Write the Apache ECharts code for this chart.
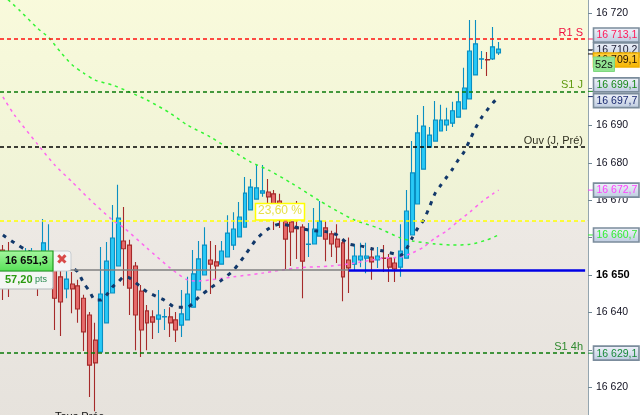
<!DOCTYPE html>
<html><head><meta charset="utf-8">
<style>html,body{margin:0;padding:0;background:#fff}#c{width:640px;height:415px}</style>
<script src="https://cdn.jsdelivr.net/npm/echarts@6/dist/echarts.min.js"></script>
</head><body><div id="c"></div>
<script>
const opens=[16656.7,16655.3,16653.5,16651.3,16651.9,16651.3,16654.5,16650.0,16651.1,16651.9,16649.5,16646.3,16647.6,16647.1,16643.8,16639.3,16632.6,16629.4,16637.2,16645.2,16652.4,16659.1,16658.0,16652.4,16645.7,16640.4,16638.8,16638.2,16638.8,16638.8,16638.0,16636.6,16638.0,16641.4,16646.0,16650.0,16654.0,16653.5,16652.9,16654.8,16658.0,16660.2,16662.8,16667.4,16670.3,16671.9,16672.2,16671.7,16669.8,16664.7,16664.2,16662.6,16662.8,16658.2,16658.3,16660.4,16662.6,16661.0,16659.6,16658.6,16654.0,16652.9,16654.0,16654.5,16654.8,16654.0,16654.5,16654.5,16653.2,16652.1,16654.5,16660.7,16669.0,16678.3,16684.2,16685.8,16688.5,16690.1,16690.6,16692.2,16694.4,16697.1,16703.5,16707.7,16707.6,16707.8,16709.4];
const closes=[16651.9,16650.0,16650.8,16653.5,16654.5,16655.3,16650.8,16658.6,16655.3,16643.8,16642.8,16648.9,16646.3,16640.9,16634.8,16625.9,16626.5,16644.9,16653.7,16659.9,16665.2,16657.0,16646.5,16639.3,16635.3,16637.2,16637.4,16639.3,16638.9,16637.2,16635.3,16639.6,16644.9,16650.3,16654.3,16658.0,16652.9,16652.4,16656.4,16661.2,16662.3,16665.5,16671.9,16673.5,16673.3,16672.5,16670.9,16665.5,16664.7,16659.6,16661.5,16662.4,16653.7,16658.3,16662.3,16664.4,16659.6,16658.3,16657.5,16649.5,16651.9,16655.1,16655.1,16655.1,16653.5,16655.1,16654.4,16652.1,16651.6,16656.4,16667.1,16677.3,16688.0,16689.8,16687.4,16691.4,16691.4,16691.4,16693.9,16696.3,16700.0,16709.9,16711.8,16707.8,16707.5,16711.0,16710.4];
const lows=[16643.3,16644.1,16647.6,16648.7,16650.0,16649.5,16644.4,16648.7,16649.5,16635.3,16633.7,16643.8,16639.8,16637.2,16629.7,16617.4,16613.6,16629.4,16637.2,16645.2,16652.4,16647.1,16639.3,16629.9,16628.1,16629.9,16632.9,16634.5,16635.3,16633.4,16632.1,16633.4,16638.0,16641.4,16646.0,16650.0,16644.9,16648.7,16652.9,16654.8,16656.7,16660.2,16662.8,16667.4,16670.3,16670.9,16667.4,16662.0,16662.6,16651.6,16652.4,16654.3,16643.8,16654.8,16658.3,16660.4,16653.7,16654.8,16653.2,16643.0,16645.2,16651.1,16652.1,16650.5,16648.7,16651.9,16650.8,16648.1,16648.1,16649.5,16654.5,16660.7,16669.0,16678.3,16684.2,16685.8,16688.5,16688.5,16689.6,16692.2,16694.4,16697.1,16703.5,16705.1,16703.2,16707.5,16708.8];
const highs=[16658.0,16658.8,16655.6,16655.6,16657.2,16657.2,16656.4,16665.0,16663.6,16653.5,16651.3,16651.3,16650.8,16648.7,16644.7,16640.1,16637.2,16657.5,16658.8,16668.7,16674.1,16668.2,16659.4,16653.5,16647.3,16642.0,16640.6,16646.0,16640.9,16641.4,16640.1,16646.0,16649.5,16656.7,16659.1,16662.8,16659.1,16658.0,16659.1,16666.0,16666.8,16669.5,16676.2,16675.7,16679.7,16679.4,16675.7,16672.7,16671.7,16668.7,16666.0,16669.8,16663.6,16663.9,16667.9,16669.8,16664.4,16661.8,16663.6,16659.4,16660.0,16658.3,16658.6,16658.6,16657.5,16657.5,16658.0,16655.6,16654.8,16663.6,16672.7,16685.8,16692.8,16695.2,16689.6,16696.5,16695.5,16694.7,16696.3,16698.9,16705.4,16718.2,16718.2,16709.9,16709.6,16716.3,16712.3];

const greenIdx=[0,3,6,8,10,12,14,16,19,22,25,29,32,36,39,43,46,50,55,58,61,65,69,71,75,78,81,84,86];
const greenVals=[16724.9,16720.6,16716.0,16713.4,16709.6,16706.2,16704.0,16702.1,16700.8,16698.9,16696.8,16693.3,16690.1,16686.9,16684.0,16680.2,16678.1,16674.6,16669.8,16667.1,16664.7,16662.6,16659.9,16659.1,16658.3,16658.0,16658.2,16659.4,16660.7];
const pinkIdx=[0,2,6,9,12,15,19,21,25,29,32,34,37,40,45,51,57,61,66,69,71,73,75,77,79,81,83,85,86];
const pinkVals=[16697.6,16692.8,16685.0,16679.4,16674.9,16670.3,16664.7,16662.6,16657.2,16651.9,16648.7,16648.4,16648.9,16649.5,16650.5,16651.9,16652.4,16653.2,16654.5,16654.8,16655.9,16657.5,16659.9,16661.8,16664.4,16666.8,16669.5,16671.7,16672.7];
const navyIdx=[0,2,4,6,8,10,12,13,14,15,16,17,18,19,20,21,22,25,28,30,32,33,34,36,38,40,42,44,46,48,50,52,54,56,58,60,62,64,66,68,69,70,71,72,73,74,75,76,77,78,79,80,81,82,83,84,85,86];
const navyVals=[16660.7,16658.6,16656.7,16655.3,16654.3,16652.9,16651.9,16650.8,16647.9,16645.7,16643.3,16643.3,16644.7,16646.8,16648.1,16649.5,16649.2,16645.5,16643.3,16641.4,16641.4,16642.5,16644.1,16646.5,16648.7,16651.3,16655.3,16659.6,16662.3,16663.6,16663.1,16662.3,16661.8,16661.6,16660.7,16658.3,16657.8,16657.0,16656.4,16655.6,16655.3,16657.0,16659.9,16662.6,16664.7,16668.2,16671.9,16674.1,16676.2,16678.3,16680.8,16682.9,16686.1,16689.3,16692.0,16694.1,16696.0,16697.6];

const levelVals=[16713.1,16699.1,16684.2,16664.6,16629.1];
const levelNames=['R1 S','S1 J','Ouv (J, Pré)','','S1 4h'];
const levelColors=['#ff1010','#0a7a0a','#000000','#ffff00','#0a7a0a'];
const levelTextColors=['#f01040','#5f9a10','#303020','#000','#2f8a2f'];
const entryPrice=16651.3;
const boxVals=[16629.1,16660.7,16672.7,16697.7,16699.1,16713.1,16710.2,16709.1];
const boxTexts=['16 629,1','16 660,7','16 672,7','16 697,7','16 699,1','16 713,1','16 710,2','16 709,1'];
const boxColors=['#1a8a3a','#33ee33','#ff40ff','#1a2a70','#1a8a1a','#ff1a5a','#1a1a30','#201000'];
const boxShift=[0,0,0,4,-6.5,-4,0,6];
const yTicks={min:16610,max:16730,step:10};
const hiddenTicks=[16630,16660,16700,16710];

const n=102;
const categories=Array.from({length:n},(_,i)=>String(i));
const candles=opens.map((o,i)=>[o,closes[i],lows[i],highs[i]]);
const zip=(a,b)=>a.map((v,i)=>[v,b[i]]);
const fmt=v=>{const s=String(v);return s.slice(0,2)+' '+s.slice(2)};

const chart=echarts.init(document.getElementById('c'),null,{renderer:'canvas'});
const FONT='"Liberation Sans",Arial,sans-serif';
const dashLine=(name,data,color,width,dash)=>({name,type:'line',data,showSymbol:false,symbol:'none',smooth:0.25,silent:true,z:4,
  lineStyle:{color,width,type:dash}});
chart.setOption({
  animation:false,
  backgroundColor:'#ffffff',
  grid:{left:0,right:52,top:-24.2,bottom:-9.6,containLabel:false,outerBoundsMode:'none'},
  xAxis:{type:'category',data:categories,show:false,boundaryGap:true},
  yAxis:{type:'value',position:'right',min:yTicks.min,max:yTicks.max,interval:yTicks.step,scale:true,
    splitLine:{show:false},
    axisLine:{show:true,lineStyle:{color:'#708794',width:1.5}},
    axisTick:{show:true,length:4,lineStyle:{color:'#708794',width:1}},
    axisLabel:{margin:8,color:'#101020',fontFamily:FONT,fontSize:10.5,
      formatter:v=>hiddenTicks.includes(v)?'':(v===16650?'{b|'+fmt(v)+'}':fmt(v)),
      rich:{b:{fontWeight:'bold',fontSize:11,color:'#000',fontFamily:FONT}}}},
  series:[
    {name:'fond',type:'line',data:[],silent:true,z:0,
      markArea:{silent:true,data:[
        [{yAxis:levelVals[3],itemStyle:{color:{type:'linear',x:0,y:0,x2:0,y2:1,colorStops:[{offset:0,color:'#fafbdc'},{offset:1,color:'#eef2d6'}]}}},{yAxis:yTicks.max}],
        [{yAxis:yTicks.min,itemStyle:{color:{type:'linear',x:0,y:0,x2:0,y2:1,colorStops:[{offset:0,color:'#ede9e4'},{offset:1,color:'#e6e2dc'}]}}},{yAxis:levelVals[3]}]
      ]}},
    {name:'niveaux',type:'line',data:[],silent:true,z:2,
      markLine:{silent:true,symbol:'none',animation:false,
        data:levelVals.map((v,i)=>({yAxis:v,
          lineStyle:{color:levelColors[i],type:[4,3],width:1.5},
          label:{show:!!levelNames[i],formatter:levelNames[i],position:'insideEndTop',distance:[5,1],color:levelTextColors[i],fontSize:11,fontFamily:FONT}}))
          .concat([
            [{xAxis:0,yAxis:entryPrice,lineStyle:{color:'#808080',type:'solid',width:1.5},label:{show:false}},{xAxis:60,yAxis:entryPrice}],
            [{xAxis:60,yAxis:entryPrice,lineStyle:{color:'#0000e6',type:'solid',width:2.5},label:{show:false}},{xAxis:n-1,yAxis:entryPrice}]
          ])}},
    {name:'cours',type:'candlestick',data:candles,barWidth:4.4,z:3,silent:true,
      itemStyle:{color:'#29c9f6',color0:'#e66c6c',borderColor:'#0a8fc2',borderColor0:'#a52a2a',borderWidth:1.1}},
    dashLine('MM verte',zip(greenIdx,greenVals),'#33f533',1.5,[3,4]),
    dashLine('MM rose',zip(pinkIdx,pinkVals),'#ff66f0',1.5,[3,4]),
    dashLine('MM bleue',zip(navyIdx,navyVals),'#12386a',3,[4,6]),
    {name:'étiquettes',type:'custom',silent:true,z:20,clip:false,
      data:boxVals.map(v=>[0,v]),
      encode:{x:0,y:1},
      renderItem:(p,api)=>{
        const i=p.dataIndex, yy=api.coord([0,api.value(1)])[1], cy=yy+boxShift[i];
        const orange=i===7;
        const fill=orange?new echarts.graphic.LinearGradient(0,0,0,1,[{offset:0,color:'#ffd24a'},{offset:1,color:'#f5b400'}])
          :new echarts.graphic.LinearGradient(0,0,0,1,[{offset:0,color:'#f2f4fb'},{offset:1,color:'#bccadf'}]);
        return {type:'group',children:[
          {type:'line',shape:{x1:588,y1:yy,x2:593,y2:yy},style:{stroke:boxColors[i],lineWidth:1}},
          {type:'rect',shape:{x:593.5,y:cy-7,width:45.5,height:14},style:{fill,stroke:orange?'#f0b000':'#7b8c9c',lineWidth:1.6}},
          {type:'text',style:{x:596.5,y:cy+0.5,text:boxTexts[i],fill:boxColors[i],font:'10.5px '+FONT,textVerticalAlign:'middle'}}
        ]};
      }}
  ],
  graphic:[
    {type:'rect',z:30,shape:{x:593.5,y:57,width:21,height:14.5},style:{fill:'#93e493',stroke:'#7fd87f',lineWidth:1}},
    {type:'text',z:31,style:{x:595,y:59,text:'52s',fill:'#101010',font:'11px '+FONT}},
    {type:'rect',z:30,shape:{x:255.5,y:203.5,width:49,height:16.5},style:{fill:'#ffffff',stroke:'#ffff00',lineWidth:1.5}},
    {type:'text',z:31,style:{x:258,y:205,text:'23,60 %',fill:'#e6e04a',font:'12px '+FONT}},
    {type:'rect',z:30,shape:{x:45,y:251,width:26,height:20,r:3},style:{fill:'#f4f5f6',stroke:'#c8ccd0',lineWidth:1}},
    {type:'text',z:31,style:{x:56,y:253,text:'✖',fill:'#d84a4a',font:'14px "DejaVu Sans"'}},
    {type:'rect',z:32,shape:{x:-3,y:251,width:56,height:20},style:{fill:new echarts.graphic.LinearGradient(0,0,0,1,[{offset:0,color:'#a6f7a0'},{offset:1,color:'#55e055'}]),stroke:'#1f9a1f',lineWidth:1.2}},
    {type:'text',z:33,style:{x:5,y:255,text:'16 651,3',fill:'#0a0a0a',font:'bold 11px '+FONT}},
    {type:'rect',z:30,shape:{x:-3,y:271,width:56,height:18,r:2},style:{fill:'#f4f6f4',stroke:'#b4b8bc',lineWidth:1.2}},
    {type:'text',z:31,style:{x:5,y:274,text:'57,20',fill:'#2a9a10',font:'bold 11px '+FONT}},
    {type:'text',z:31,style:{x:35,y:275,text:'pts',fill:'#2a8a50',font:'9px '+FONT}},
    {type:'text',z:31,style:{x:55,y:411,text:'Tous Préc',fill:'#101010',font:'11px '+FONT}}
  ]
});
</script></body></html>
